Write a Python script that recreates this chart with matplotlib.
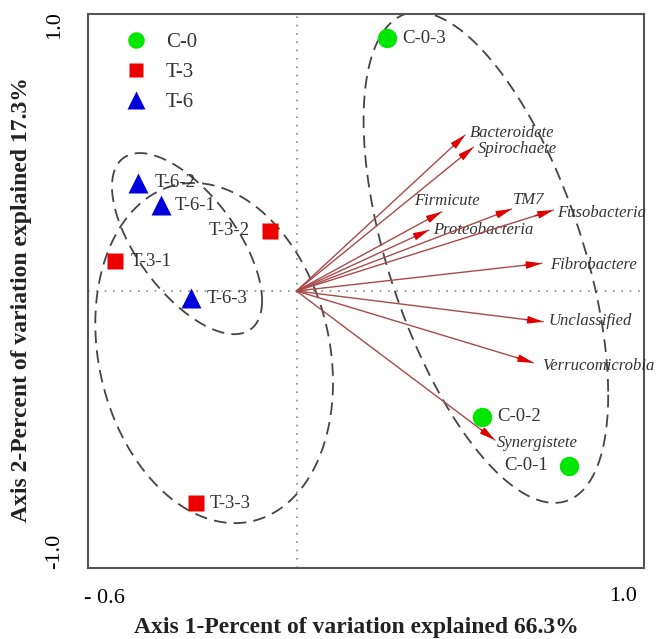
import numpy as np
import matplotlib
matplotlib.use("Agg")
import matplotlib.pyplot as plt
from matplotlib.lines import Line2D

plt.rcParams['font.family'] = ['Liberation Serif', 'DejaVu Serif']

# sample scores
samples = ['C-0-1', 'C-0-2', 'C-0-3', 'T-3-1', 'T-3-2', 'T-3-3', 'T-6-1', 'T-6-2', 'T-6-3']
groups = ['C-0', 'C-0', 'C-0', 'T-3', 'T-3', 'T-3', 'T-6', 'T-6', 'T-6']
sample_x = [0.785, 0.535, 0.260, -0.522, -0.076, -0.289, -0.390, -0.455, -0.304]
sample_y = [-0.631, -0.454, 0.912, 0.108, 0.217, -0.766, 0.310, 0.391, -0.026]

# species arrows
species = ['Bacteroidete', 'Spirochaete', 'Firmicute', 'Proteobacteria', 'TM7',
           'Fusobacteria', 'Fibrobactere', 'Unclassified', 'Verrucomicrobia', 'Synergistete']
species_x = [0.485, 0.509, 0.418, 0.381, 0.619, 0.739, 0.706, 0.710, 0.682, 0.571]
species_y = [0.563, 0.519, 0.286, 0.220, 0.296, 0.292, 0.100, -0.111, -0.259, -0.538]

# group envelopes: centre, half extents, tilt
env_groups = ['C-0', 'T-3', 'T-6']
env_cx = [0.545, -0.237, -0.315]
env_cy = [0.121, -0.224, 0.171]
env_hx = [0.352, 0.342, 0.216]
env_hy = [0.886, 0.614, 0.327]
env_tilt = [56, 80, 51]

# style
grp_style = {
    'C-0': dict(marker='o', color='#00e600', ms=14),
    'T-3': dict(marker='s', color='#ee0000', ms=12),
    'T-6': dict(marker='^', color='#0000dd', ms=15),
}
# label offsets in pixels (dx, dy, ha)
sample_off = [(-21, 0, 'right'), (15, 0, 'left'), (15, 0, 'left'),
              (16, 0, 'left'), (-20, 0, 'right'), (14, 0, 'left'),
              (14, 0, 'left'), (16, 0, 'left'), (16, 0, 'left')]
species_off = [(5, 2), (4, -2), (-28, 11), (4, 0), (1, 9),
               (4, -3), (8, -2), (5, 1), (9, -3), (2, -3)]

fig = plt.figure(figsize=(6.59, 6.39), dpi=100)
ax = fig.add_axes([88 / 659, 71 / 639, 556 / 659, 554 / 639])
ax.set_xlim(-0.6, 1.0)
ax.set_ylim(-1.0, 1.0)
ax.set_xticks([])
ax.set_yticks([])
for s in ax.spines.values():
    s.set_color('#555555')
    s.set_linewidth(1.5)

# zero lines
ax.axhline(0, color='#888888', lw=1.2, ls=(0, (1, 4)), zorder=1)
ax.axvline(0, color='#888888', lw=1.2, ls=(0, (1, 4)), zorder=1)

# envelopes
t = np.linspace(0, 2 * np.pi, 300)
for cx, cy, hx, hy, d in zip(env_cx, env_cy, env_hx, env_hy, env_tilt):
    ex = cx + hx * np.cos(t)
    ey = cy - hy * np.cos(t - np.radians(d))
    ax.plot(ex, ey, color='#444444', lw=1.3, dashes=(7, 4), zorder=2)

# arrows
for name, x, y, off in zip(species, species_x, species_y, species_off):
    ax.annotate('', xy=(x, y), xytext=(0, 0),
                arrowprops=dict(arrowstyle='-', color='#a84a4a', lw=1.0,
                                shrinkA=0, shrinkB=0), zorder=3)
    ax.annotate('', xy=(x, y), xytext=(x * 0.93, y * 0.93),
                arrowprops=dict(arrowstyle='-|>,head_length=0.9,head_width=0.22',
                                color='#e00000', lw=1.0, shrinkA=0, shrinkB=0), zorder=3)
    ax.annotate(name, xy=(x, y), xytext=off, textcoords='offset pixels',
                ha='left', va='center', fontsize=12, style='italic', color='#333333')

# samples
for name, g, x, y, off in zip(samples, groups, sample_x, sample_y, sample_off):
    st = grp_style[g]
    ax.plot(x, y, ls='none', marker=st['marker'], color=st['color'],
            ms=st['ms'], mec='none', zorder=4)
    ax.annotate(name, xy=(x, y), xytext=(off[0], off[1]), textcoords='offset pixels',
                ha=off[2], va='center', fontsize=13.5, color='#333333')

# legend
handles = [Line2D([], [], ls='none', marker=grp_style[g]['marker'], color=grp_style[g]['color'],
                  ms=grp_style[g]['ms'] * 0.85, mec='none') for g in env_groups]
ax.legend(handles, env_groups, loc='upper left', bbox_to_anchor=(0.024, 1.0),
          frameon=False, fontsize=15, labelspacing=0.5, handletextpad=0.7,
          handlelength=1.5, labelcolor='#333333')

# axis end labels
ax.text(0.03, -0.055, '- 0.6', transform=ax.transAxes, ha='center', va='center', fontsize=16)
ax.text(0.963, -0.052, '1.0', transform=ax.transAxes, ha='center', va='center', fontsize=16)
ax.text(-0.06, 0.98, '1.0', transform=ax.transAxes, ha='center', va='center',
        rotation=90, fontsize=16)
ax.text(-0.06, 0.03, '-1.0', transform=ax.transAxes, ha='center', va='center',
        rotation=90, fontsize=16)

fig.text(356 / 659, 1 - 628 / 639, 'Axis 1-Percent of variation explained 66.3%',
         ha='center', va='center', fontsize=17, fontweight='bold', color='#222222')
fig.text(22 / 659, 1 - 300 / 639, 'Axis 2-Percent of variation explained 17.3%',
         ha='center', va='center', rotation=90, fontsize=17, fontweight='bold', color='#222222')

fig.savefig('out.png', dpi=100)
